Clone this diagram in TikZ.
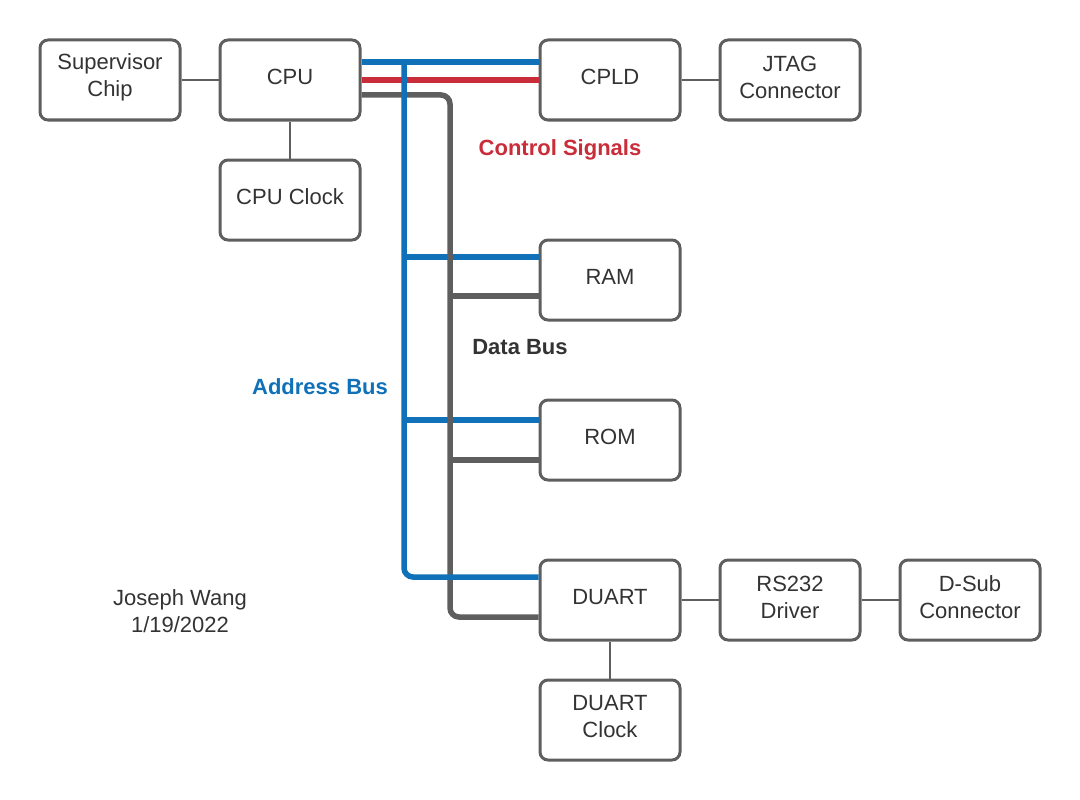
\documentclass[tikz,border=0pt]{standalone}
\usepackage{fontspec}
\setmainfont{Liberation Sans}
\definecolor{boxline}{HTML}{5E5E5E}
\definecolor{txt}{HTML}{333333}
\definecolor{abuscol}{HTML}{1071B9}
\definecolor{cbuscol}{HTML}{C92D39}
\definecolor{dbuscol}{HTML}{5E5E5E}
\tikzset{
  blk/.style={draw=boxline, line width=3pt, rounded corners=8pt, fill=white,
    minimum width=140pt, minimum height=80pt, inner sep=0pt,
    label={[btext]center:{#1}}},
  btext/.style={align=center, text=txt, yshift=3pt,
    font=\fontsize{22}{27}\selectfont, inner sep=0pt},
  wire/.style={draw=boxline, line width=2pt},
  abus/.style={draw=abuscol, line width=5.5pt, rounded corners=9pt},
  cbus/.style={draw=cbuscol, line width=5.5pt},
  dbus/.style={draw=dbuscol, line width=5.5pt, rounded corners=9pt},
  lbl/.style={font=\bfseries\fontsize{22}{27}\selectfont, inner sep=0pt}
}
\begin{document}
\begin{tikzpicture}[x=1pt,y=-1pt]
\useasboundingbox (0,0) rectangle (1080,800);
% bus coordinates
\coordinate (a0) at (404,62);
\coordinate (a1) at (404,257);
\coordinate (a2) at (404,420);
\coordinate (a3) at (404,577);
\coordinate (d0) at (450,95);
\coordinate (d1) at (450,296);
\coordinate (d2) at (450,460);
\coordinate (d3) at (450,617);
% boxes
\node[blk={Supervisor\\Chip}] (sup) at (110,80) {};
\node[blk={CPU}] (cpu) at (290,80) {};
\node[blk={CPU Clock}] (clk) at (290,200) {};
\node[blk={CPLD}] (cpld) at (610,80) {};
\node[blk={JTAG\\Connector}] (jtag) at (790,80) {};
\node[blk={RAM}] (ram) at (610,280) {};
\node[blk={ROM}] (rom) at (610,440) {};
\node[blk={DUART}] (duart) at (610,600) {};
\node[blk={RS232\\Driver}] (rs) at (790,600) {};
\node[blk={D-Sub\\Connector}] (dsub) at (970,600) {};
\node[blk={DUART\\Clock}] (dclk) at (610,720) {};
% thin wires
\draw[wire] (sup) -- (cpu);
\draw[wire] (cpu) -- (clk);
\draw[wire] (cpld) -- (jtag);
\draw[wire] (duart) -- (rs);
\draw[wire] (rs) -- (dsub);
\draw[wire] (duart) -- (dclk);
% buses
\draw[cbus] (cpu.east) -- (cpld.west);
\draw[abus] (a1) -- (ram.west |- a1);
\draw[abus] (a2) -- (rom.west |- a2);
\draw[dbus] (cpu.east |- d0) -- (d0) -- (d3) -- (duart.west |- d3);
\draw[dbus] (d1) -- (ram.west |- d1);
\draw[dbus] (d2) -- (rom.west |- d2);
\draw[abus] (cpu.east |- a0) -- (cpld.west |- a0);
\draw[abus] (a0) -- (a3) -- (duart.west |- a3);
% labels
\node[lbl, text=cbuscol] (lc) at (560,150) {Control Signals};
\node[lbl, text=txt] (ld) at (520,347) {Data Bus};
\node[lbl, text=abuscol] (la) at (320,387) {Address Bus};
\node[align=center, text=txt, font=\fontsize{22}{27}\selectfont, inner sep=0pt] (auth) at (180,611) {Joseph Wang\\1/19/2022};
\end{tikzpicture}
\end{document}
